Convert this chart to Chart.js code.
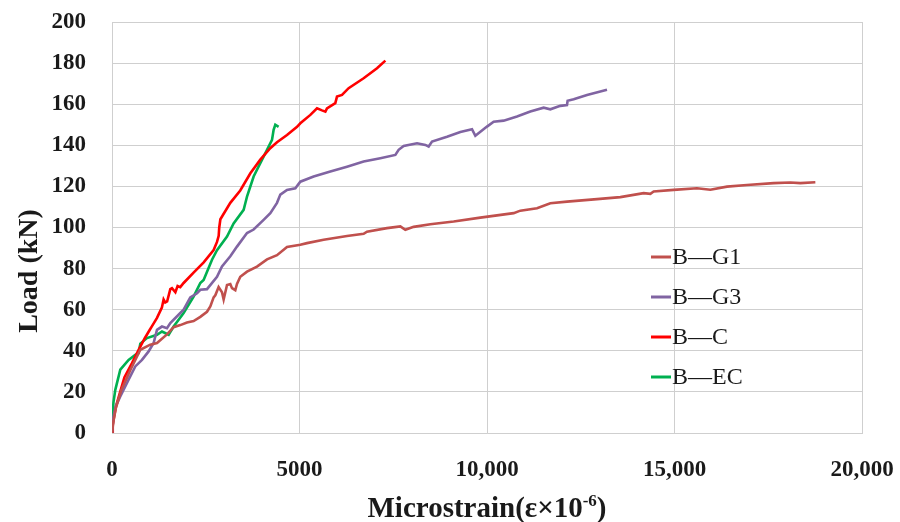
<!DOCTYPE html>
<html>
<head>
<meta charset="utf-8">
<script src="https://cdn.jsdelivr.net/npm/chart.js@4.4.1/dist/chart.umd.min.js"></script>
<style>
  html, body { margin: 0; padding: 0; background: #ffffff; }
  #wrap { width: 900px; height: 522px; position: relative; }
</style>
</head>
<body>
<div id="wrap"><canvas id="c" width="900" height="522"></canvas></div>
<script>
// ---- Data ----
const seriesNames = ['B\u2014G1', 'B\u2014G3', 'B\u2014C', 'B\u2014EC'];
const seriesColors = ['#c0504d', '#8064a2', '#ff0000', '#00b050'];

const g1Strain = [0, 40, 100, 250, 500, 755, 1021, 1200, 1466, 1643, 1821, 2000, 2176, 2355, 2533, 2622, 2710, 2755, 2843, 2933, 2977, 3067, 3155, 3200, 3288, 3333, 3421, 3600, 3866, 4134, 4400, 4667, 5022, 5200, 5644, 6267, 6710, 6800, 7333, 7689, 7822, 8044, 8489, 9111, 9822, 10711, 10889, 11334, 11689, 12134, 12934, 13556, 14178, 14356, 14444, 14978, 15600, 15956, 16400, 16934, 17645, 18089, 18356, 18756];
const g1Load   = [0, 6, 12, 21, 31, 40.5, 43, 43.8, 48, 51.5, 52.5, 53.8, 54.5, 56.5, 59, 61.6, 66, 67, 71, 68.5, 65, 72, 72.5, 70.5, 69.5, 72.5, 76, 78.5, 81, 84.5, 86.5, 90.5, 91.6, 92.4, 94, 95.9, 96.9, 98, 99.7, 100.5, 98.9, 100.3, 101.6, 102.9, 104.8, 107, 108.2, 109.4, 111.8, 112.6, 113.8, 114.8, 116.7, 116.4, 117.5, 118.3, 119.1, 118.4, 119.9, 120.7, 121.6, 121.9, 121.6, 122];

const g3Strain = [0, 40, 100, 221, 443, 621, 800, 976, 1110, 1155, 1200, 1333, 1466, 1555, 1821, 1910, 2088, 2267, 2355, 2533, 2800, 2933, 3155, 3333, 3600, 3777, 4043, 4222, 4400, 4489, 4667, 4889, 5022, 5377, 5822, 6267, 6710, 7155, 7556, 7644, 7777, 8134, 8356, 8444, 8534, 8934, 9289, 9600, 9689, 10000, 10177, 10444, 10800, 11155, 11511, 11689, 11955, 12133, 12150, 12311, 12667, 13200];
const g3Load   = [0, 8, 13, 17.8, 26, 32.4, 35.6, 39.7, 43.8, 47, 50.2, 51.8, 51, 53.5, 58.4, 60, 66, 68, 69.7, 70, 76, 81, 86, 90.7, 97.3, 99, 103.7, 107, 112, 116, 118.3, 119.1, 122.3, 124.8, 127.2, 129.6, 132.1, 133.7, 135.3, 137.8, 139.7, 141, 140.2, 139.4, 141.8, 144.2, 146.5, 147.8, 144.6, 149.1, 151.5, 152, 154, 156.4, 158.3, 157.5, 159.2, 159.6, 161.7, 162.4, 164.5, 167];

const cStrain = [0, 20, 43, 107, 195, 330, 533, 710, 870, 1000, 1067, 1200, 1330, 1376, 1420, 1470, 1555, 1600, 1690, 1750, 1820, 1910, 2175, 2445, 2710, 2800, 2845, 2860, 2890, 3155, 3420, 3690, 3955, 4220, 4400, 4667, 4935, 5022, 5290, 5467, 5600, 5690, 5733, 5955, 6000, 6134, 6310, 6710, 7067, 7290];
const cLoad   = [0, 4, 6.5, 13, 18.5, 27, 34, 40.5, 46, 50, 52, 56, 61, 65, 63.5, 64, 70, 70.5, 68.5, 71.5, 71, 73, 78, 83, 89, 93, 96, 100, 104, 112, 118, 126.4, 133, 138.6, 141.5, 145, 149, 150.7, 154.8, 158, 157, 156.4, 158, 160.5, 163.7, 164.5, 167.8, 172.6, 177.5, 181.2];

const ecStrain = [0, 10, 40, 88, 221, 443, 621, 710, 755, 933, 1200, 1333, 1510, 1643, 1910, 2176, 2355, 2443, 2667, 2800, 3067, 3243, 3510, 3555, 3600, 3777, 3955, 4134, 4267, 4310, 4355, 4443];
const ecLoad   = [0, 8, 15, 21, 30.8, 35.6, 38, 38.9, 43.5, 46.2, 47.8, 49.4, 47.8, 51.8, 58.4, 66.4, 73, 74.5, 84.3, 89, 95.6, 102, 108.6, 111.8, 115, 124.8, 131.3, 137.8, 142.6, 147.5, 150, 149];

const xTickLabels = ['0', '5000', '10,000', '15,000', '20,000'];
const yTickLabels = ['0', '20', '40', '60', '80', '100', '120', '140', '160', '180', '200'];
const xTitleMain = 'Microstrain(\u03b5\u00d710';
const xTitleSup = '-6';
const xTitleEnd = ')';
const yTitle = 'Load (kN)';

// ---- Build datasets ----
function pts(xs, ys) { return xs.map((x, i) => ({ x: x, y: ys[i] })); }
const allSeries = [[g1Strain, g1Load], [g3Strain, g3Load], [cStrain, cLoad], [ecStrain, ecLoad]];
const datasets = allSeries.map((s, i) => ({
  label: seriesNames[i],
  data: pts(s[0], s[1]),
  borderColor: seriesColors[i],
  backgroundColor: seriesColors[i],
  borderWidth: 2.6,
  pointRadius: 0,
  tension: 0,
  showLine: true,
  fill: false
}));

const SERIF = "'Liberation Serif', 'Times New Roman', serif";
const GRID = '#cfcfcf';
const TXT = '#1a1a1a';

const decor = {
  id: 'decor',
  beforeDraw(chart) {
    const ctx = chart.ctx;
    ctx.save();
    ctx.fillStyle = '#ffffff';
    ctx.fillRect(0, 0, chart.width, chart.height);
    ctx.restore();
  },
  afterDraw(chart) {
    const ctx = chart.ctx;
    const area = chart.chartArea;
    ctx.save();
    ctx.fillStyle = TXT;
    // y title
    ctx.font = 'bold 28px ' + SERIF;
    ctx.translate(37, 271);
    ctx.rotate(-Math.PI / 2);
    ctx.textAlign = 'center';
    ctx.textBaseline = 'alphabetic';
    ctx.fillText(yTitle, 0, 0);
    ctx.restore();

    // x title with superscript
    ctx.save();
    ctx.fillStyle = TXT;
    ctx.textBaseline = 'alphabetic';
    ctx.font = 'bold 29px ' + SERIF;
    const w1 = ctx.measureText(xTitleMain).width;
    const w3 = ctx.measureText(xTitleEnd).width;
    ctx.font = 'bold 17px ' + SERIF;
    const w2 = ctx.measureText(xTitleSup).width;
    const total = w1 + w2 + w3;
    const cx = (area.left + area.right) / 2;
    let x0 = cx - total / 2;
    const base = 517;
    ctx.font = 'bold 29px ' + SERIF;
    ctx.textAlign = 'left';
    ctx.fillText(xTitleMain, x0, base);
    ctx.font = 'bold 17px ' + SERIF;
    ctx.fillText(xTitleSup, x0 + w1, base - 11);
    ctx.font = 'bold 29px ' + SERIF;
    ctx.fillText(xTitleEnd, x0 + w1 + w2, base);
    ctx.restore();

    // legend
    ctx.save();
    const legX = 651, legLine = 20, legY0 = 257, legStep = 40;
    ctx.font = '24px ' + SERIF;
    ctx.textAlign = 'left';
    ctx.textBaseline = 'middle';
    chart.data.datasets.forEach((ds, i) => {
      const y = legY0 + i * legStep;
      ctx.strokeStyle = ds.borderColor;
      ctx.lineWidth = 3;
      ctx.beginPath();
      ctx.moveTo(legX, y);
      ctx.lineTo(legX + legLine, y);
      ctx.stroke();
      ctx.fillStyle = TXT;
      ctx.fillText(ds.label, legX + legLine + 1, y + 1);
    });
    ctx.restore();
  }
};

new Chart(document.getElementById('c'), {
  type: 'scatter',
  data: { datasets: datasets },
  plugins: [decor],
  options: {
    responsive: false,
    animation: false,
    devicePixelRatio: 1,
    layout: { padding: { top: 22, right: 38, left: 0, bottom: 0 } },
    plugins: { legend: { display: false }, tooltip: { enabled: false } },
    scales: {
      x: {
        type: 'linear', min: 0, max: 20000,
        afterFit(s) { s.height = 89; s.paddingLeft = 0; s.paddingRight = 0; s.paddingTop = 0; s.paddingBottom = 0; },
        ticks: {
          stepSize: 5000, autoSkip: false, maxRotation: 0, padding: 23,
          color: TXT, font: { family: SERIF, size: 23, weight: 'bold' },
          callback: (v) => xTickLabels[Math.round(v / 5000)]
        },
        grid: { color: GRID, lineWidth: 1, drawTicks: false },
        border: { color: GRID, width: 1 }
      },
      y: {
        type: 'linear', min: 0, max: 200,
        afterFit(s) { s.width = 112; s.paddingLeft = 0; s.paddingRight = 0; s.paddingTop = 0; s.paddingBottom = 0; },
        ticks: {
          stepSize: 20, autoSkip: false, padding: 26,
          color: TXT, font: { family: SERIF, size: 23, weight: 'bold' },
          callback: (v) => yTickLabels[Math.round(v / 20)]
        },
        grid: { color: GRID, lineWidth: 1, drawTicks: false },
        border: { color: GRID, width: 1 }
      }
    }
  }
});
</script>
</body>
</html>
